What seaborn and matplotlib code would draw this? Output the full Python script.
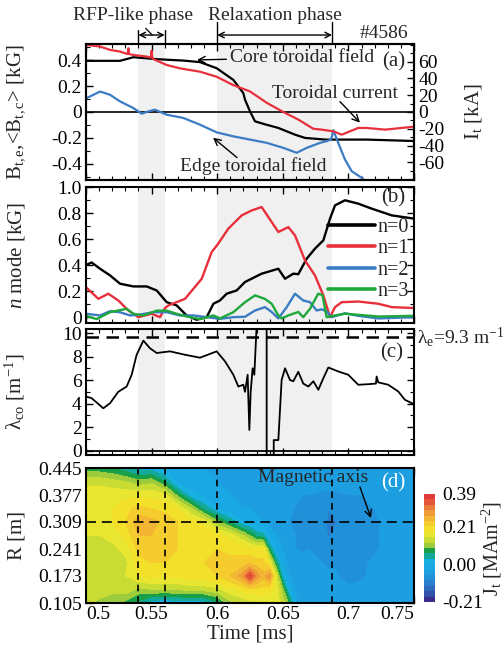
import numpy as np
import pandas as pd
import matplotlib
matplotlib.use("Agg")
import matplotlib.pyplot as plt
from matplotlib.colors import ListedColormap, BoundaryNorm
from matplotlib.ticker import MultipleLocator
import seaborn as sns

# ---------------- data ----------------
PHASE_RFP = [0.54, 0.56]
PHASE_RELAX = [0.60, 0.6875]

CORE_T = [0.500, 0.5259, 0.5361, 0.5539, 0.5742, 0.5869, 0.5996, 0.6123, 0.6199, 0.6212,
          0.625, 0.6288, 0.6364, 0.6466, 0.6593, 0.6669, 0.6822, 0.714, 0.750]
CORE_B = [0.395, 0.395, 0.423, 0.408, 0.397, 0.385, 0.338, 0.248, 0.146, 0.095,
          0.005, -0.072, -0.095, -0.123, -0.175, -0.200, -0.213, -0.213, -0.224]

CUR_T = [0.500, 0.5107, 0.5183, 0.5259, 0.5318, 0.5323, 0.5328, 0.536, 0.5463, 0.5495, 0.550,
         0.5505, 0.5513, 0.5615, 0.5716, 0.5869, 0.5996, 0.6123, 0.625, 0.6377, 0.6504,
         0.6618, 0.6733, 0.6796, 0.6885, 0.6949, 0.7075, 0.714, 0.7279, 0.750]
CUR_I = [80, 78, 74, 72, 69, 76, 69, 68, 66, 65, 73,
         65, 63, 56, 52, 48, 42, 32, 24.5, 11, 0,
         -9, -20, -21, -23, -27, -19, -19, -21, -17.5]

EDGE_T = [0.500, 0.5107, 0.5183, 0.5259, 0.536, 0.5425, 0.5476, 0.5526, 0.5615, 0.5742,
          0.5869, 0.5996, 0.6123, 0.625, 0.6377, 0.6504, 0.6606, 0.6682, 0.6784, 0.6835,
          0.6870, 0.6885, 0.6923, 0.6974, 0.7025, 0.7101, 0.716, 0.720]
EDGE_B = [0.105, 0.158, 0.133, 0.082, 0.031, -0.013, 0.005, 0.018, -0.021, -0.046,
          -0.098, -0.157, -0.188, -0.213, -0.238, -0.277, -0.315, -0.277, -0.238, -0.225,
          -0.21, -0.14, -0.24, -0.367, -0.457, -0.508, -0.56, -0.62]

N0_T = [0.500, 0.5043, 0.5107, 0.5183, 0.5259, 0.5361, 0.5462, 0.5539, 0.5615, 0.5691,
        0.5767, 0.5843, 0.592, 0.5971, 0.6021, 0.6072, 0.6148, 0.6212, 0.6339, 0.6466,
        0.6517, 0.658, 0.6618, 0.6682, 0.6745, 0.6809, 0.686, 0.6898, 0.6974, 0.7075,
        0.7177, 0.733, 0.750]
N0_V = [0.40, 0.42, 0.372, 0.321, 0.257, 0.236, 0.236, 0.205, 0.115, 0.09,
        0.013, -0.02, 0.0, 0.103, 0.128, 0.18, 0.205, 0.27, 0.334, 0.372,
        0.295, 0.334, 0.33, 0.449, 0.526, 0.59, 0.757, 0.859, 0.898, 0.872,
        0.834, 0.782, 0.757]

N1_T = [0.500, 0.5094, 0.517, 0.5246, 0.5323, 0.5399, 0.550, 0.5564, 0.5602, 0.5628,
        0.5755, 0.5882, 0.5958, 0.6008, 0.6085, 0.6187, 0.6263, 0.6339, 0.6415, 0.6466,
        0.6542, 0.6593, 0.6669, 0.6745, 0.6809, 0.686, 0.6898, 0.6949, 0.7075, 0.7228,
        0.733, 0.750]
N1_V = [0.23, 0.141, 0.18, 0.128, 0.051, 0.0, 0.026, 0.0, 0.07, 0.09,
        0.141, 0.295, 0.5, 0.565, 0.68, 0.782, 0.82, 0.846, 0.731, 0.654,
        0.692, 0.628, 0.436, 0.321, 0.167, 0.0, 0.077, 0.115, 0.12, 0.103,
        0.077, 0.07]

N2_T = [0.500, 0.5107, 0.5183, 0.5259, 0.5335, 0.5412, 0.5513, 0.5615, 0.5716, 0.5818,
        0.592, 0.6021, 0.6123, 0.6212, 0.6288, 0.6364, 0.6415, 0.6466, 0.653, 0.6593,
        0.6656, 0.6707, 0.6758, 0.6796, 0.6834, 0.6873, 0.6974, 0.7075, 0.7228, 0.750]
N2_V = [0.026, 0.013, 0.046, 0.038, 0.013, 0.02, 0.038, 0.038, 0.013, 0.013,
        0.0, -0.013, 0.0, 0.003, 0.051, 0.077, 0.04, -0.01, 0.077, 0.18,
        0.128, 0.115, 0.051, 0.06, 0.045, 0.0, 0.03, 0.01, -0.01, 0.0]

N3_T = [0.500, 0.5081, 0.5183, 0.531, 0.5361, 0.5437, 0.5539, 0.5615, 0.5691, 0.5767,
        0.5869, 0.5971, 0.6021, 0.6123, 0.6212, 0.6288, 0.6364, 0.6415, 0.6466, 0.6491,
        0.6542, 0.6618, 0.6656, 0.6707, 0.677, 0.6802, 0.6834, 0.6898, 0.6974, 0.7228,
        0.750]
N3_V = [0.01, -0.015, 0.038, 0.064, 0.026, 0.013, 0.05, 0.05, 0.026, 0.005,
        -0.015, 0.013, -0.01, 0.038, 0.115, 0.167, 0.14, 0.103, 0.013, -0.01,
        0.013, 0.04, 0.0, 0.064, 0.18, 0.17, 0.0, 0.013, 0.026, 0.005, 0.01]

LAM_T = [0.500, 0.5043, 0.5132, 0.5183, 0.5246, 0.531, 0.5348, 0.5386, 0.5437, 0.5488,
         0.5539, 0.564, 0.5755, 0.5869, 0.5996, 0.6059, 0.6123, 0.6161, 0.6199, 0.6212,
         0.6232, 0.6245, 0.6255, 0.627, 0.6283, 0.6301, 0.6320, 0.6377, 0.6377, 0.6425,
         0.6431, 0.6466, 0.6491, 0.6517, 0.6555, 0.658, 0.6618, 0.6656, 0.6695, 0.6733,
         0.6771, 0.6809, 0.6847, 0.6923, 0.6999, 0.7075, 0.7152, 0.7210, 0.7215, 0.7228,
         0.7304, 0.738, 0.7431, 0.750]
LAM_V = [4.6, 4.46, 3.6, 4.03, 5.0, 5.45, 6.45, 8.15, 9.35, 8.7,
         8.3, 8.44, 8.15, 7.9, 8.44, 7.6, 6.45, 5.45, 5.6, 5.0,
         6.45, 1.76, 5.0, 7.0, 6.45, 10.7, 14.0, 30.0, -30.0, -30.0,
         0.9, 0.9, 6.0, 7.0, 6.0, 5.9, 6.7, 5.7, 5.45, 5.9,
         5.17, 6.16, 7.07, 6.73, 6.45, 5.6, 5.65, 5.7, 6.3, 5.8,
         5.6, 5.03, 4.32, 3.95]
LAMBDA_E_LINE = 9.65

JT_RADII = [0.105, 0.139, 0.173, 0.207, 0.241, 0.275, 0.309, 0.343, 0.377, 0.411, 0.445]
JT_TIMES = [0.500, 0.510, 0.520, 0.530, 0.540, 0.550, 0.560, 0.570, 0.580, 0.590,
            0.600, 0.610, 0.620, 0.625, 0.630, 0.635, 0.640, 0.645, 0.650, 0.655,
            0.660, 0.665, 0.670, 0.680, 0.685, 0.690, 0.700, 0.710, 0.720, 0.730,
            0.740, 0.750]
JT_VALUES = [
    [0.13, 0.14, 0.14, 0.14, 0.14, 0.15, 0.16, 0.17, 0.17, 0.14, 0.07],
    [0.11, 0.14, 0.14, 0.14, 0.14, 0.15, 0.17, 0.18, 0.17, 0.14, 0.07],
    [0.10, 0.13, 0.14, 0.13, 0.14, 0.16, 0.18, 0.18, 0.17, 0.13, 0.06],
    [0.08, 0.14, 0.15, 0.14, 0.16, 0.19, 0.21, 0.20, 0.17, 0.12, 0.04],
    [0.05, 0.11, 0.18, 0.20, 0.22, 0.24, 0.26, 0.22, 0.17, 0.10, 0.01],
    [0.01, 0.12, 0.19, 0.21, 0.22, 0.24, 0.25, 0.21, 0.17, 0.11, 0.01],
    [0.00, 0.12, 0.19, 0.21, 0.22, 0.23, 0.23, 0.20, 0.16, 0.06, -0.01],
    [0.01, 0.12, 0.19, 0.21, 0.21, 0.21, 0.21, 0.18, 0.08, -0.02, -0.03],
    [0.01, 0.13, 0.20, 0.21, 0.21, 0.20, 0.19, 0.12, 0.01, -0.02, -0.03],
    [0.01, 0.13, 0.20, 0.21, 0.21, 0.20, 0.17, 0.05, -0.01, -0.02, -0.03],
    [0.05, 0.14, 0.21, 0.22, 0.21, 0.19, 0.10, 0.00, -0.02, -0.03, -0.03],
    [0.11, 0.17, 0.24, 0.22, 0.20, 0.17, 0.05, -0.02, -0.03, -0.03, -0.03],
    [0.13, 0.19, 0.29, 0.22, 0.20, 0.12, 0.00, -0.03, -0.04, -0.04, -0.03],
    [0.14, 0.20, 0.37, 0.23, 0.19, 0.09, -0.01, -0.03, -0.04, -0.04, -0.03],
    [0.14, 0.20, 0.29, 0.22, 0.18, 0.05, -0.02, -0.04, -0.04, -0.04, -0.04],
    [0.15, 0.20, 0.25, 0.22, 0.19, 0.04, -0.03, -0.04, -0.05, -0.05, -0.04],
    [0.15, 0.19, 0.30, 0.17, 0.06, -0.01, -0.04, -0.05, -0.05, -0.05, -0.04],
    [0.16, 0.17, 0.15, 0.06, -0.01, -0.03, -0.05, -0.05, -0.05, -0.05, -0.04],
    [0.14, 0.10, 0.02, -0.02, -0.03, -0.04, -0.05, -0.05, -0.05, -0.05, -0.045],
    [0.08, 0.00, -0.03, -0.04, -0.04, -0.05, -0.06, -0.05, -0.05, -0.05, -0.045],
    [-0.02, -0.04, -0.045, -0.05, -0.06, -0.06, -0.07, -0.065, -0.05, -0.05, -0.045],
    [-0.04, -0.045, -0.045, -0.05, -0.065, -0.07, -0.10, -0.065, -0.06, -0.05, -0.045],
    [-0.045, -0.045, -0.05, -0.05, -0.06, -0.065, -0.07, -0.065, -0.06, -0.05, -0.045],
    [-0.045, -0.05, -0.05, -0.06, -0.065, -0.07, -0.075, -0.065, -0.065, -0.05, -0.045],
    [-0.045, -0.05, -0.055, -0.065, -0.07, -0.095, -0.10, -0.09, -0.065, -0.05, -0.045],
    [-0.045, -0.05, -0.055, -0.065, -0.07, -0.08, -0.095, -0.07, -0.065, -0.05, -0.045],
    [-0.045, -0.05, -0.08, -0.06, -0.065, -0.065, -0.065, -0.065, -0.06, -0.05, -0.045],
    [-0.045, -0.05, -0.065, -0.065, -0.065, -0.065, -0.065, -0.065, -0.06, -0.05, -0.045],
    [-0.045, -0.05, -0.05, -0.055, -0.065, -0.065, -0.065, -0.06, -0.05, -0.05, -0.045],
    [-0.045, -0.045, -0.05, -0.05, -0.05, -0.05, -0.05, -0.05, -0.05, -0.045, -0.045],
    [-0.045, -0.045, -0.045, -0.045, -0.045, -0.045, -0.045, -0.045, -0.045, -0.045, -0.045],
    [-0.045, -0.045, -0.045, -0.045, -0.045, -0.045, -0.045, -0.045, -0.045, -0.045, -0.045],
]
JT_COLORS = ["#3a2c88", "#3350a8", "#2e68bc", "#2a7ccc", "#2090d8", "#1c9ee0",
             "#1aa8e4", "#18b0e0", "#12a89a", "#18a048", "#9ccb3c", "#c8dc34",
             "#e8e630", "#f2e02a", "#f4cc2e", "#f2b534", "#f09a38", "#ec7a3a",
             "#e5553a", "#e03c3c"]
JT_MIN, JT_MAX, JT_NLEV = -0.21, 0.39, 20
CB_TICKS = [-0.21, 0.00, 0.21, 0.39]
CB_TICKLABELS = ["-0.21", "0.00", "0.21", "0.39"]

X_TICKS = [0.5, 0.55, 0.6, 0.65, 0.7, 0.75]
X_TICKLABELS = ["0.5", "0.55", "0.6", "0.65", "0.7", "0.75"]
A_TICKS = [-0.4, -0.2, 0, 0.2, 0.4]
A_TICKLABELS = ["-0.4", "-0.2", "0", "0.2", "0.4"]
A2_TICKS = [-60, -40, -20, 0, 20, 40, 60]
B_TICKS = [0, 0.2, 0.4, 0.6, 0.8, 1.0]
B_TICKLABELS = ["0", "0.2", "0.4", "0.6", "0.8", "1.0"]
C_TICKS = [0, 2, 4, 6, 8, 10]
D_TICKS = [0.105, 0.173, 0.241, 0.309, 0.377, 0.445]
MAG_AXIS_R = 0.309

# ---------------- style ----------------
sns.set_style("ticks")
plt.rcParams.update({
    "font.family": ["Liberation Serif", "DejaVu Serif"],
    "mathtext.fontset": "custom",
    "mathtext.rm": "Liberation Serif",
    "mathtext.it": "Liberation Serif:italic",
    "mathtext.bf": "Liberation Serif:bold",
    "axes.unicode_minus": False,
    "xtick.direction": "in", "ytick.direction": "in",
    "xtick.top": True, "ytick.right": True,
    "axes.linewidth": 1.5,
    "axes.edgecolor": "black",
    "xtick.color": "black", "ytick.color": "black",
    "xtick.major.size": 5, "ytick.major.size": 5,
    "xtick.minor.size": 3, "ytick.minor.size": 3,
    "xtick.major.width": 1.0, "ytick.major.width": 1.0,
    "xtick.minor.width": 0.8, "ytick.minor.width": 0.8,
    "xtick.minor.visible": True, "ytick.minor.visible": True,
    "xtick.major.pad": 2.5, "ytick.major.pad": 3,
    "xtick.labelsize": 14, "ytick.labelsize": 14,
    "axes.labelsize": 15,
    "font.size": 14,
})

W, H = 503, 648
fig = plt.figure(figsize=(W / 100, H / 100), dpi=100)


def rect(l, t, r, b):
    return [l / W, 1 - b / H, (r - l) / W, (b - t) / H]


ax_a = fig.add_axes(rect(86, 44, 414, 180))
ax_b = fig.add_axes(rect(86, 187, 414, 323))
ax_c = fig.add_axes(rect(86, 329, 414, 455))
ax_d = fig.add_axes(rect(86, 468, 414, 603))
cax = fig.add_axes(rect(424, 494, 435, 602))

RED, BLUE, GREEN = "#e8303c", "#3b7cc4", "#1ea83a"
SPAN = "#f0f0f0"
YLAB_X = -0.18

for ax in (ax_a, ax_b, ax_c):
    ax.axvspan(*PHASE_RFP, color=SPAN, lw=0, zorder=0)
    ax.axvspan(*PHASE_RELAX, color=SPAN, lw=0, zorder=0)
    ax.set_xlim(0.5, 0.75)
    ax.set_xticks(X_TICKS)
    ax.xaxis.set_minor_locator(MultipleLocator(0.01))
    ax.tick_params(labelbottom=False)

# ---------------- panel (a) ----------------
ax_a.axhline(0, color="k", lw=1.2, zorder=1)
sns.lineplot(x=CORE_T, y=CORE_B, ax=ax_a, color="k", lw=1.6, estimator=None, sort=False)
sns.lineplot(x=EDGE_T, y=EDGE_B, ax=ax_a, color=BLUE, lw=1.6, estimator=None, sort=False)
ax_a.set_ylim(-0.525, 0.525)
ax_a.set_yticks(A_TICKS)
ax_a.set_yticklabels(A_TICKLABELS)
ax_a.yaxis.set_minor_locator(MultipleLocator(0.1))
ax_a.tick_params(axis="y", which="both", right=False)
ax_a.set_ylabel(r"B$_\mathrm{t,e}$,<B$_\mathrm{t,c}$> [kG]")
ax_a.yaxis.set_label_coords(YLAB_X, 0.5)

ax_a2 = ax_a.twinx()
sns.lineplot(x=CUR_T, y=CUR_I, ax=ax_a2, color=RED, lw=1.6, estimator=None, sort=False)
ax_a2.set_ylim(-81, 81)
ax_a2.set_yticks(A2_TICKS)
ax_a2.yaxis.set_minor_locator(MultipleLocator(10))
ax_a2.tick_params(axis="y", which="both", direction="in", right=True, left=False)
ax_a2.set_ylabel(r"I$_\mathrm{t}$ [kA]")
ax_a2.yaxis.set_label_coords(1.15, 0.5)
ax_a2.set_xlim(0.5, 0.75)

arrow = dict(arrowstyle="->", color="k", lw=1.0, shrinkA=0, shrinkB=0, mutation_scale=12)
ax_a.annotate("Core toroidal field", xy=(0.5846, 0.402), xytext=(0.6095, 0.42),
              ha="left", va="center", fontsize=14, arrowprops=arrow)
ax_a.text(0.6418, 0.14, "Toroidal current", ha="left", va="center", fontsize=14)
ax_a.annotate("", xy=(0.7088, -0.082), xytext=(0.6936, 0.08), arrowprops=arrow)
ax_a.text(0.5716, -0.42, "Edge toroidal field", ha="left", va="center", fontsize=14)
ax_a.annotate("", xy=(0.5968, -0.198), xytext=(0.6151, -0.352), arrowprops=arrow)
ax_a.text(0.7431, 0.39, "(a)", ha="right", va="center", fontsize=15)

# phase markers above panel (a)
xt = ax_a.get_xaxis_transform()
for x0 in PHASE_RFP:
    ax_a.plot([x0, x0], [1.0, 1.10], transform=xt, color="k", lw=1.0, clip_on=False)
for x0 in PHASE_RELAX:
    ax_a.plot([x0, x0], [1.0, 1.16], transform=xt, color="k", lw=1.0, clip_on=False)
dbl = dict(arrowstyle="<->", color="k", lw=1.0, shrinkA=0, shrinkB=0, mutation_scale=10)
ax_a.annotate("", xy=(PHASE_RFP[0], 1.066), xytext=(PHASE_RFP[1], 1.066),
              xycoords=xt, textcoords=xt, arrowprops=dbl, annotation_clip=False)
ax_a.annotate("", xy=(PHASE_RELAX[0], 1.066), xytext=(PHASE_RELAX[1], 1.066),
              xycoords=xt, textcoords=xt, arrowprops=dbl, annotation_clip=False)
ax_a.plot([0.5455, 0.5505], [1.115, 1.066], transform=xt, color="k", lw=0.9, clip_on=False)
fig.text(133 / W, 1 - 16 / H, "RFP-like phase", ha="center", va="center", fontsize=14)
fig.text(275 / W, 1 - 16 / H, "Relaxation phase", ha="center", va="center", fontsize=14)
ax_a.text(0.7454, 1.08, "#4586", transform=xt, ha="right", va="center", fontsize=14)

# ---------------- panel (b) ----------------
sns.lineplot(x=N0_T, y=N0_V, ax=ax_b, color="k", lw=1.7, estimator=None, sort=False, label="n=0")
sns.lineplot(x=N1_T, y=N1_V, ax=ax_b, color=RED, lw=1.7, estimator=None, sort=False, label="n=1")
sns.lineplot(x=N2_T, y=N2_V, ax=ax_b, color=BLUE, lw=1.7, estimator=None, sort=False, label="n=2")
sns.lineplot(x=N3_T, y=N3_V, ax=ax_b, color=GREEN, lw=1.7, estimator=None, sort=False, label="n=3")
ax_b.set_ylim(-0.045, 1.0)
ax_b.set_yticks(B_TICKS)
ax_b.set_yticklabels(B_TICKLABELS)
ax_b.yaxis.set_minor_locator(MultipleLocator(0.1))
ax_b.set_ylabel(r"$n$ mode [kG]")
ax_b.yaxis.set_label_coords(YLAB_X, 0.5)
leg = ax_b.legend(loc="upper right", bbox_to_anchor=(0.985, 0.775), frameon=False,
                  fontsize=14.5, handlelength=2.3, handletextpad=0.15,
                  labelspacing=0.12, borderpad=0, borderaxespad=0)
for ln in leg.get_lines():
    ln.set_linewidth(2.6)
ax_b.text(0.7431, 0.92, "(b)", ha="right", va="center", fontsize=15)

# ---------------- panel (c) ----------------
ax_c.axhline(0, color="k", lw=1.3)
ax_c.axhline(LAMBDA_E_LINE, color="k", lw=1.8, ls=(0, (5, 3)))
sns.lineplot(x=LAM_T, y=LAM_V, ax=ax_c, color="k", lw=1.3, estimator=None, sort=False)
ax_c.set_ylim(-0.37, 10.34)
ax_c.set_yticks(C_TICKS)
ax_c.yaxis.set_minor_locator(MultipleLocator(1))
ax_c.set_ylabel(r"λ$_\mathrm{co}$ [m$^\mathrm{-1}$]")
ax_c.yaxis.set_label_coords(YLAB_X, 0.5)
ax_c.text(0.7416, 8.33, "(c)", ha="right", va="center", fontsize=15)
fig.text(417 / W, 1 - 337 / H, r"λ$_\mathrm{e}$=9.3 m$^\mathrm{-1}$", ha="left", va="center",
         fontsize=14)

# ---------------- panel (d) ----------------
levels = np.round(np.linspace(JT_MIN, JT_MAX, JT_NLEV + 1), 3)
cmap = ListedColormap(JT_COLORS)
norm = BoundaryNorm(levels, cmap.N)
TT, RR = np.meshgrid(JT_TIMES, JT_RADII)
ZZ = np.array(JT_VALUES).T
cs = ax_d.contourf(TT, RR, ZZ, levels=levels, cmap=cmap, norm=norm)
for x0 in PHASE_RFP + PHASE_RELAX:
    ax_d.axvline(x0, color="k", lw=1.2, ls=(0, (4, 3)))
ax_d.axhline(MAG_AXIS_R, color="k", lw=1.2, ls=(0, (6, 3.5)))
ax_d.set_xlim(0.5, 0.75)
ax_d.set_ylim(0.105, 0.445)
ax_d.set_xticks(X_TICKS)
ax_d.set_xticklabels(X_TICKLABELS)
xlabels = ax_d.get_xticklabels()
xlabels[0].set_horizontalalignment("left")
xlabels[-1].set_horizontalalignment("right")
ax_d.xaxis.set_minor_locator(MultipleLocator(0.01))
ax_d.set_yticks(D_TICKS)
ax_d.set_yticklabels([f"{v:.3f}" for v in D_TICKS])
ax_d.yaxis.set_minor_locator(MultipleLocator(0.034))
ax_d.set_xlabel("Time [ms]", fontsize=15, labelpad=1)
ax_d.set_ylabel("R [m]")
ax_d.yaxis.set_label_coords(YLAB_X, 0.5)
ax_d.text(0.6311, 0.42, "Magnetic axis", ha="left", va="center", fontsize=14)
ax_d.annotate("", xy=(0.7172, 0.319), xytext=(0.7088, 0.397), arrowprops=arrow)
ax_d.text(0.7431, 0.407, "(d)", ha="right", va="center", fontsize=15, color="white")

cb = fig.colorbar(cs, cax=cax, ticks=CB_TICKS)
cb.outline.set_visible(False)
cb.ax.set_yticklabels(CB_TICKLABELS)
cax.tick_params(length=0, labelsize=14, pad=5)
cax.minorticks_off()
cb.set_label(r"J$_\mathrm{t}$ [MAm$^\mathrm{-2}$]", fontsize=14.5)
cax.yaxis.set_label_coords(5.1, 0.5)

fig.savefig("out.png", dpi=100)
